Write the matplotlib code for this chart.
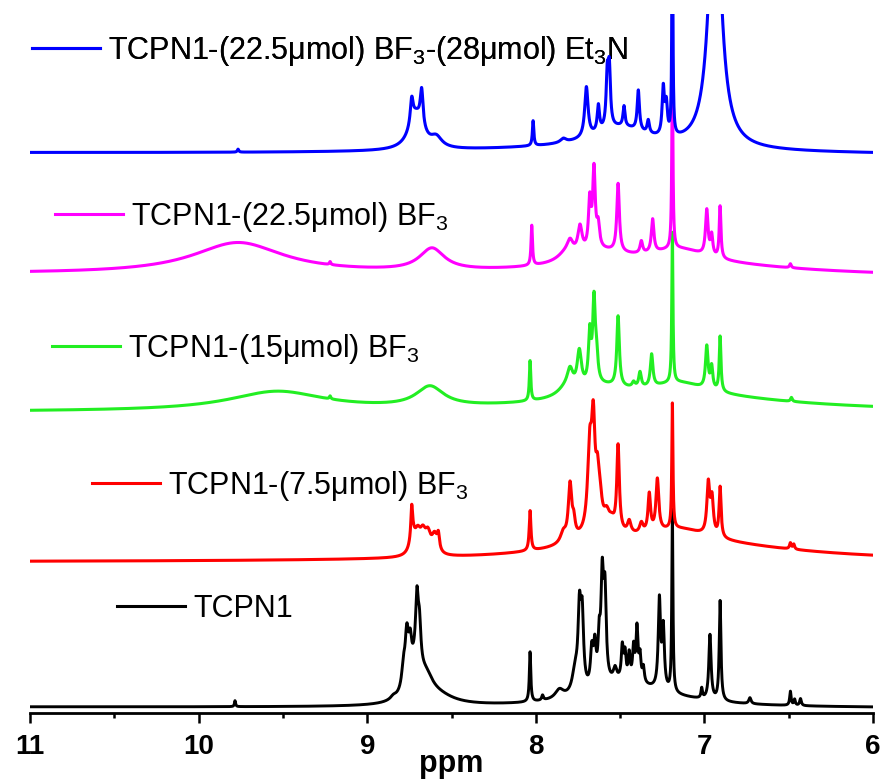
import numpy as np
import matplotlib
matplotlib.use('Agg')
import matplotlib.pyplot as plt
from matplotlib.lines import Line2D
from matplotlib.ticker import MultipleLocator

plt.rcParams['font.family'] = ['Liberation Sans', 'DejaVu Sans']
plt.rcParams['mathtext.fontset'] = 'custom'
plt.rcParams['mathtext.rm'] = 'Liberation Sans'
plt.rcParams['mathtext.it'] = 'Liberation Sans:italic'
plt.rcParams['mathtext.bf'] = 'Liberation Sans:bold'
plt.rcParams['mathtext.default'] = 'regular'

# ---------------- data ----------------
labels = ['TCPN1',
          'TCPN1-(7.5\u03bcmol) BF$_3$',
          'TCPN1-(15\u03bcmol) BF$_3$',
          'TCPN1-(22.5\u03bcmol) BF$_3$',
          'TCPN1-(22.5\u03bcmol) BF$_3$-(28\u03bcmol) Et$_3$N']
colors = ['#000000', '#ff0000', '#22ee22', '#ff00ff', '#0000ff']

# vertical offsets (baseline at 11 ppm and at 6 ppm)
base_left = [6, 151, 301, 439, 560]
base_right = [5, 151, 301, 436, 558]

# peak tables: centre (ppm), height, half width (ppm)
black_ppm = [9.784, 8.845, 8.785, 8.765, 8.745, 8.705, 8.69, 8.72, 8.65, 8.58,
             8.034, 7.96, 7.86, 7.4, 7.5, 7.767, 7.741, 7.725, 7.668, 7.65,
             7.624, 7.606, 7.59, 7.53, 7.487, 7.471, 7.446, 7.42, 7.40, 7.382,
             7.362, 7.267, 7.244, 7.19, 7.016, 6.967, 6.907, 6.73, 6.49, 6.465,
             6.43]
black_h = [6, 3, 20, 48, 28, 65, 38, 30, 18, 8,
           50, 5, 9, 16, 10, 22, 75, 70, 35, 38,
           40, 100, 85, 12, 32, 25, 25, 32, 52, 25,
           15, 88, 60, 182, 10, 65, 100, 6, 14, 6,
           7]
black_w = [0.004, 0.02, 0.012, 0.012, 0.010, 0.010, 0.010, 0.05, 0.05, 0.12,
           0.005, 0.006, 0.03, 0.35, 0.15, 0.02, 0.01, 0.01, 0.009, 0.009,
           0.008, 0.009, 0.009, 0.012, 0.007, 0.007, 0.007, 0.007, 0.007, 0.007,
           0.007, 0.008, 0.008, 0.004, 0.005, 0.008, 0.006, 0.008, 0.005, 0.005,
           0.006]

red_ppm = [8.736, 8.73, 8.70, 8.67, 8.64, 8.60, 8.578, 7.1, 7.62, 7.15,
           8.034, 7.837, 7.797, 7.775, 7.68, 7.659, 7.635, 7.62, 7.58, 7.55,
           7.512, 7.446, 7.374, 7.327, 7.279, 7.19, 6.977, 6.955, 6.907, 6.49,
           6.47]
red_h = [30, 18, 18, 18, 18, 18, 15, 18, 13, 13,
         40, 10, 55, 15, 80, 95, 40, 25, 15, 8,
         85, 12, 10, 38, 52, 125, 50, 35, 50, 6,
         5]
red_w = [0.006, 0.02, 0.02, 0.02, 0.02, 0.02, 0.008, 0.8, 0.2, 0.2,
         0.006, 0.02, 0.012, 0.01, 0.015, 0.012, 0.012, 0.015, 0.02, 0.02,
         0.009, 0.012, 0.012, 0.009, 0.01, 0.004, 0.01, 0.01, 0.007, 0.006,
         0.006]

green_ppm = [9.535, 9.22, 8.628, 8.034, 7.1, 7.62, 7.15, 7.82, 7.797, 7.742,
             7.68, 7.655, 7.64, 7.512, 7.42, 7.382, 7.313, 7.19, 6.986, 6.957,
             6.907, 6.484]
green_h = [19, 3, 20, 40, 14, 13, 13, 8, 18, 36,
           50, 80, 25, 70, 5, 15, 32, 150, 42, 22,
           55, 4]
green_w = [0.35, 0.005, 0.1, 0.005, 0.8, 0.2, 0.2, 0.06, 0.02, 0.015,
           0.009, 0.009, 0.01, 0.009, 0.01, 0.009, 0.009, 0.004, 0.009, 0.008,
           0.006, 0.006]

magenta_ppm = [9.766, 9.22, 8.616, 8.024, 7.1, 7.62, 7.15, 7.82, 7.797, 7.738,
               7.68, 7.655, 7.63, 7.512, 7.374, 7.307, 7.19, 6.986, 6.957,
               6.907, 6.49]
magenta_h = [31, 3, 22, 40, 11, 14, 14, 8, 12, 26,
             48, 78, 22, 68, 12, 33, 180, 45, 20,
             52, 4]
magenta_w = [0.33, 0.005, 0.09, 0.005, 0.8, 0.2, 0.2, 0.06, 0.02, 0.015,
             0.009, 0.009, 0.01, 0.009, 0.009, 0.009, 0.004, 0.009, 0.008,
             0.006, 0.006]

blue_ppm = [9.766, 8.736, 8.677, 8.71, 8.59, 8.016, 7.837, 7.70, 7.629, 7.576,
            7.564, 7.477, 7.392, 7.333, 7.244, 7.226, 7.19, 6.937, 7.5, 7.6]
blue_h = [3, 25, 36, 35, 10, 25, 4, 50, 26, 50,
          55, 20, 40, 13, 47, 30, 300, 284, 20, 6]
blue_w = [0.005, 0.01, 0.01, 0.05, 0.04, 0.005, 0.02, 0.012, 0.008, 0.008,
          0.008, 0.007, 0.008, 0.008, 0.008, 0.008, 0.003, 0.041, 0.2, 1.0]

peak_tables = [(black_ppm, black_h, black_w),
               (red_ppm, red_h, red_w),
               (green_ppm, green_h, green_w),
               (magenta_ppm, magenta_h, magenta_w),
               (blue_ppm, blue_h, blue_w)]

tick_values = [11, 10, 9, 8, 7, 6]

# legend anchor positions in figure pixels (left edge of line, centre y)
legend_px = [(117, 609), (92, 486), (52, 349), (55, 217), (32, 51)]

# ---------------- figure ----------------
W, H = 886, 780
fig = plt.figure(figsize=(W / 100, H / 100), dpi=100)
ax = fig.add_axes([30 / W, (H - 713) / H, 843 / W, 699 / H])

x = np.linspace(11, 6, 8001)


def spectrum(x, b0, b1, centres, heights, widths):
    y = b0 + (b1 - b0) * (11 - x) / 5.0
    for c, h, w in zip(centres, heights, widths):
        y = y + h * w ** 2 / ((x - c) ** 2 + w ** 2)
    return y


for i, (cen, hei, wid) in enumerate(peak_tables):
    y = spectrum(x, base_left[i], base_right[i], cen, hei, wid)
    ax.plot(x, y, color=colors[i], lw=2.1 if i == 0 else 2.2, zorder=2 + i)

for i in range(5):
    lx, ly = legend_px[i]
    handle = Line2D([], [], color=colors[i], lw=2.2)
    leg = ax.legend(handles=[handle], labels=[labels[i]], loc='center left',
                    bbox_to_anchor=(lx / W, 1 - ly / H),
                    bbox_transform=fig.transFigure, frameon=False,
                    fontsize=22, handlelength=2.22, handletextpad=0.28,
                    borderpad=0, borderaxespad=0)
    ax.add_artist(leg)

ax.set_xlim(11, 6)
ax.set_ylim(0, 699)
ax.set_xticks(tick_values)
ax.set_xticklabels([str(t) for t in tick_values])
ax.xaxis.set_minor_locator(MultipleLocator(0.5))
ax.set_yticks([])
for s in ['left', 'right', 'top']:
    ax.spines[s].set_visible(False)
ax.spines['bottom'].set_linewidth(2.0)
ax.tick_params(axis='x', which='major', direction='out', length=7, width=1.8,
               labelsize=20, pad=8)
ax.tick_params(axis='x', which='minor', direction='out', length=3.5, width=1.8)
for lab in ax.get_xticklabels():
    lab.set_fontweight('bold')
ax.set_xlabel('ppm', fontsize=22, fontweight='bold', labelpad=-7.5)

fig.savefig('out.png', dpi=100)
